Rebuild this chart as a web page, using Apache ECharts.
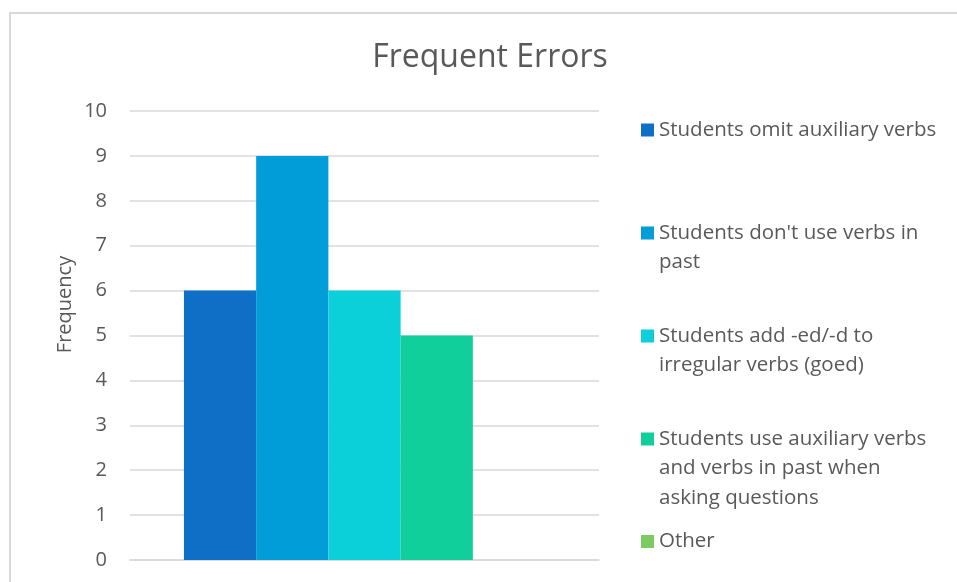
<!DOCTYPE html>
<html>
<head>
<meta charset="utf-8">
<script src="https://cdn.jsdelivr.net/npm/echarts@6/dist/echarts.min.js"></script>
<style>
  html, body { margin: 0; padding: 0; background: #fff; }
  #chart { width: 957px; height: 582px; }
</style>
</head>
<body>
<div id="chart"></div>
<script>
// 数据
const categories = ['']
const seriesNames = [
  'Students omit auxiliary verbs',
  "Students don't use verbs in past",
  'Students add -ed/-d to irregular verbs (goed)',
  'Students use auxiliary verbs and verbs in past when asking questions',
  'Other'
]
const legendLabels = [
  'Students omit auxiliary verbs',
  "Students don't use verbs in\npast",
  'Students add -ed/-d to\nirregular verbs (goed)',
  'Students use auxiliary verbs\nand verbs in past when\nasking questions',
  'Other'
]
const frequency = [6, 9, 6, 5, 0]
const yTicks = [0, 10, 1]  // min, max, interval

// Office 主题颜色
const colors = ['#0F6FC6', '#009DD9', '#0BD0D9', '#10CF9B', '#7CCA62']
const textColor = '#595959'
const lineColor = '#d9d9d9'
const font = 'Open Sans'

// 图例：每项一个 legend，按图中位置排布
const legendCenters = [130, 233, 336, 439, 541.5]
const lineH = 29.5

function buildLegends() {
  return seriesNames.map((name, i) => {
    const n = legendLabels[i].split('\n').length
    // 前面补空行，让图标对齐第一行文字
    const text = '\n'.repeat(n - 1) + legendLabels[i]
    return {
      left: 641,
      top: legendCenters[i] - (n - 0.5) * lineH,
      orient: 'vertical',
      padding: 0,
      icon: 'rect',
      itemWidth: 13,
      itemHeight: 13,
      data: [name],
      formatter: () => text,
      selectedMode: false,
      textStyle: {
        color: textColor,
        fontFamily: font,
        fontSize: 20.5,
        lineHeight: lineH
      }
    }
  })
}

function buildSeries() {
  return seriesNames.map((name, i) => ({
    name: name,
    type: 'bar',
    data: [frequency[i]],
    barGap: '0%',
    barCategoryGap: '23%',
    itemStyle: { color: colors[i] }
  }))
}

const myChart = echarts.init(document.getElementById('chart'))
const option = {
  animation: false,
  color: colors,
  title: {
    text: 'Frequent Errors',
    left: 485,
    textAlign: 'center',
    top: 37,
    textStyle: {
      color: textColor,
      fontFamily: font,
      fontSize: 32,
      fontWeight: 'normal'
    }
  },
  graphic: [
    {
      type: 'rect',
      silent: true,
      z: -1,
      shape: { x: 10, y: 13, width: 2000, height: 2000 },
      style: { fill: 'none', stroke: lineColor, lineWidth: 2 }
    }
  ],
  legend: buildLegends(),
  grid: {
    left: 130,
    right: 358,
    top: 111,
    bottom: 22,
    containLabel: false
  },
  xAxis: {
    type: 'category',
    data: categories,
    axisLine: { lineStyle: { color: lineColor, width: 1.5 } },
    axisTick: { show: false },
    axisLabel: { show: false }
  },
  yAxis: {
    type: 'value',
    min: yTicks[0],
    max: yTicks[1],
    interval: yTicks[2],
    name: 'Frequency',
    nameLocation: 'middle',
    nameGap: 55,
    nameTextStyle: {
      color: textColor,
      fontFamily: font,
      fontSize: 20,
      padding: [0, 0, 0, 62]
    },
    axisLine: { show: false },
    axisTick: { show: false },
    axisLabel: {
      color: textColor,
      fontFamily: font,
      fontSize: 20,
      margin: 23
    },
    splitLine: { lineStyle: { color: lineColor, width: 1.5 } }
  },
  series: buildSeries()
}
myChart.setOption(option)
</script>
</body>
</html>
